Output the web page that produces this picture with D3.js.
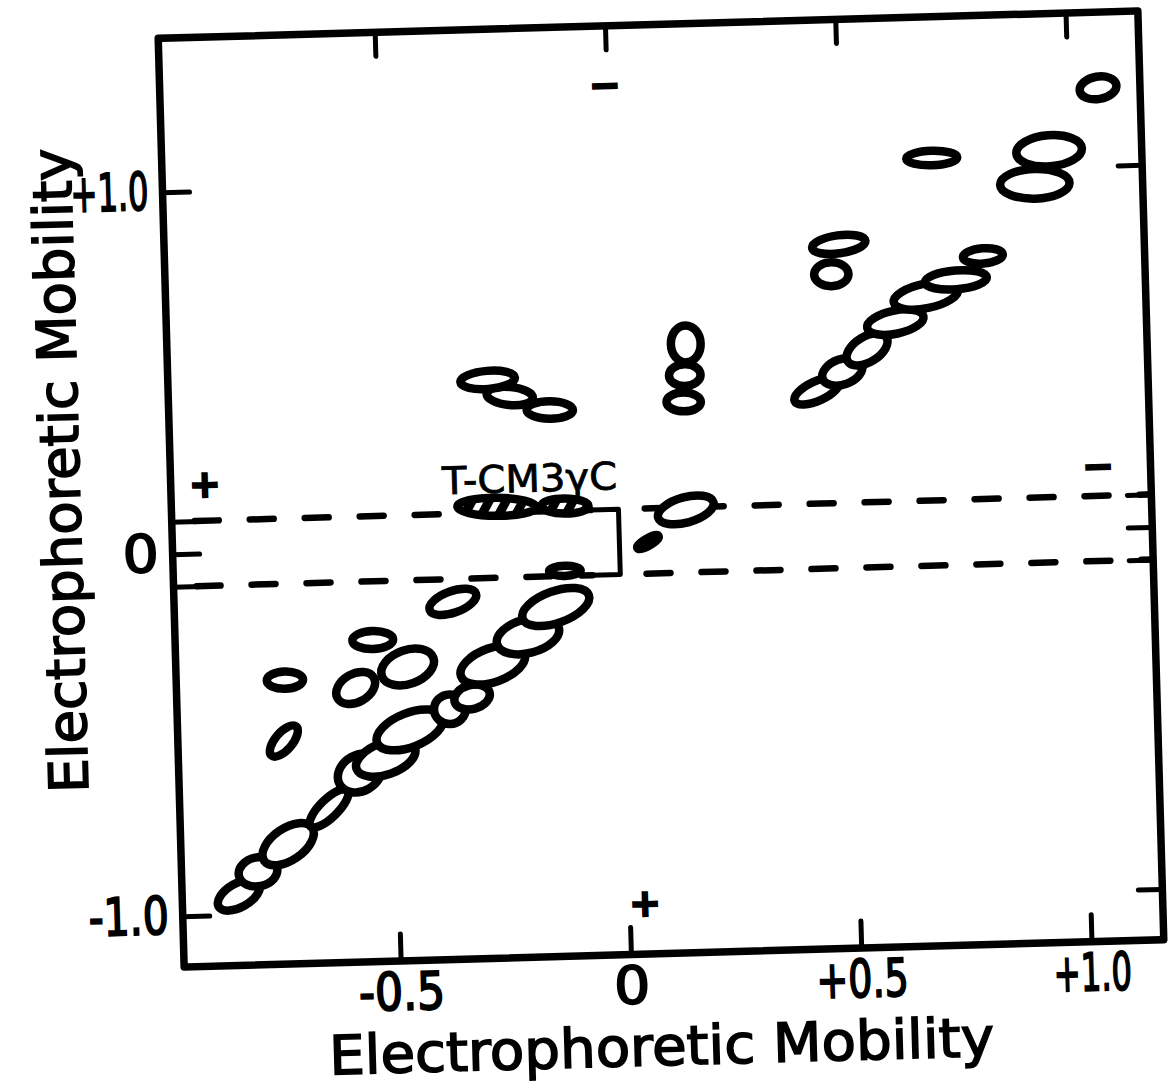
<!DOCTYPE html>
<html>
<head>
<meta charset="utf-8">
<script src="https://cdn.jsdelivr.net/npm/d3@7"></script>
<style>
  body { margin: 0; background: #fff; }
  svg { display: block; }
  text { font-family: "DejaVu Sans", sans-serif; fill: #000; }
</style>
</head>
<body>
<svg id="svg" width="1168" height="1088"></svg>
<script>
// axis ticks
var xTicks = [-0.5, 0, 0.5, 1.0];
var xTickLabels = ["-0.5", "0", "+0.5", "+1.0"];
var yTicks = [-1.0, -0.09, 0, 0.09, 1.0];
var yTickLabels = ["-1.0", "", "0", "", "+1.0"];
var axisTitle = "Electrophoretic Mobility";

// spots: [x mobility, y mobility, half width, half height, tilt deg]
var isolatedSpots = [
  [-0.120, -0.076, 0.043, 0.025, 0],
  [-0.365, -0.153, 0.062, 0.041, -18],
  [-0.541, -0.252, 0.053, 0.036, 0],
  [-0.467, -0.329, 0.068, 0.058, -18],
  [-0.581, -0.383, 0.054, 0.050, -28],
  [-0.734, -0.356, 0.048, 0.035, 0],
  [-0.740, -0.524, 0.050, 0.035, -48]
];
var lowerChain = [
  [-0.847, -0.946, 0.059, 0.044, -28],
  [-0.804, -0.883, 0.051, 0.051, -10],
  [-0.737, -0.809, 0.072, 0.055, -33],
  [-0.646, -0.713, 0.065, 0.036, -43],
  [-0.577, -0.618, 0.059, 0.061, -28],
  [-0.520, -0.580, 0.076, 0.055, -18],
  [-0.466, -0.503, 0.085, 0.058, -20],
  [-0.378, -0.449, 0.043, 0.052, 0],
  [-0.329, -0.417, 0.048, 0.044, -13],
  [-0.282, -0.330, 0.082, 0.058, -18],
  [-0.204, -0.253, 0.078, 0.058, -13],
  [-0.142, -0.175, 0.085, 0.055, -18]
];
var middleSpots = [
  [-0.229, 0.411, 0.059, 0.036, 7],
  [-0.276, 0.457, 0.068, 0.036, -3],
  [-0.143, 0.369, 0.059, 0.035, 2],
  [0.148, 0.381, 0.046, 0.037, 2],
  [0.152, 0.455, 0.043, 0.041, 0],
  [0.156, 0.541, 0.041, 0.062, 0],
  [0.146, 0.083, 0.071, 0.046, -14],
  [0.062, -0.003, 0.035, 0.021, -28]
];
var upperChain = [
  [0.438, 0.401, 0.062, 0.038, -23],
  [0.494, 0.452, 0.054, 0.046, -18],
  [0.549, 0.512, 0.058, 0.046, -30],
  [0.612, 0.585, 0.071, 0.043, -10],
  [0.680, 0.655, 0.080, 0.045, -10],
  [0.746, 0.697, 0.076, 0.037, -3],
  [0.806, 0.761, 0.052, 0.032, -3]
];
var upperSpots = [
  [0.476, 0.722, 0.046, 0.044, 0],
  [0.494, 0.804, 0.067, 0.036, -6],
  [0.701, 1.035, 0.064, 0.031, 0],
  [0.923, 0.956, 0.084, 0.052, 0],
  [0.956, 1.046, 0.080, 0.054, -3],
  [1.066, 1.216, 0.049, 0.042, -8]
];
var hatchedSpots = [
  [-0.264, 0.106, 0.094, 0.036, 2],
  [-0.116, 0.103, 0.060, 0.032, 2]
];

// dashed boundaries and the bracket at the origin
var dashLevels = [0.09, -0.09];
var leftDashRange = [-0.92, -0.06];
var rightDashRange = [0.057, 1.157];

// polarity marks and spot label
var marks = [
  {t: "+", x: -0.896, y: 0.191},
  {t: "\u2212", x: 1.043, y: 0.172},
  {t: "\u2212", x: -0.004, y: 1.262},
  {t: "+", x: 0.034, y: -0.999}
];
var spotLabel = {t: "T-CM3\u03b3C", x: -0.191, y: 0.145};

var frameL = 171, frameR = 1151, frameT = 24.5, frameB = 953.5;
var x = d3.scaleLinear().domain([-0.97, 1.157]).range([frameL, frameR]);
var y = d3.scaleLinear().domain([-1.14, 1.425]).range([frameB, frameT]);

var svg = d3.select("#svg");
var pat = svg.append("defs").append("pattern")
  .attr("id", "hatch")
  .attr("patternUnits", "userSpaceOnUse")
  .attr("width", 15).attr("height", 15)
  .attr("patternTransform", "rotate(28)");
pat.append("rect").attr("width", 15).attr("height", 15).attr("fill", "#fff");
pat.append("rect").attr("width", 9).attr("height", 15).attr("fill", "#000");

// the scanned figure sits slightly tilted on the page
var g = svg.append("g").attr("transform", "rotate(-1.6, 661, 489)");

// dashed lines
var line = d3.line().x(d => x(d[0])).y(d => y(d[1]));
dashLevels.forEach(function(lv) {
  [leftDashRange, rightDashRange].forEach(function(r) {
    g.append("path")
      .attr("d", line([[r[0], lv], [r[1], lv]]))
      .attr("fill", "none").attr("stroke", "#000")
      .attr("stroke-width", 6.5).attr("stroke-linecap", "round")
      .attr("stroke-dasharray", "24,31");
  });
});
g.append("path")
  .attr("d", line([[leftDashRange[1], dashLevels[0]], [0, dashLevels[0]],
                   [0, dashLevels[1]], [leftDashRange[1], dashLevels[1]]]))
  .attr("fill", "none").attr("stroke", "#000")
  .attr("stroke-width", 5).attr("stroke-linejoin", "round");

function drawSpots(rows, cls, fill) {
  g.selectAll("ellipse." + cls).data(rows).join("ellipse")
    .attr("class", cls)
    .attr("cx", d => x(d[0]))
    .attr("cy", d => y(d[1]))
    .attr("rx", d => Math.max(x(d[2]) - x(0) - 4, 2))
    .attr("ry", d => Math.max(y(0) - y(d[3]) - 4, 2))
    .attr("transform", d => "rotate(" + d[4] + "," + x(d[0]) + "," + y(d[1]) + ")")
    .attr("fill", fill)
    .attr("stroke", "#000")
    .attr("stroke-width", 8.5);
}
drawSpots(isolatedSpots, "iso", "#fff");
drawSpots(lowerChain, "low", "#fff");
drawSpots(middleSpots, "mid", "#fff");
drawSpots(upperChain, "upc", "#fff");
drawSpots(upperSpots, "ups", "#fff");
drawSpots(hatchedSpots, "hat", "url(#hatch)");

// frame
g.append("rect")
  .attr("x", frameL).attr("y", frameT)
  .attr("width", frameR - frameL).attr("height", frameB - frameT)
  .attr("fill", "none").attr("stroke", "#000")
  .attr("stroke-width", 7.5).attr("stroke-linejoin", "round");

var labelWidth = {"-0.5": 86, "0": 36, "+0.5": 92, "+1.0": 78, "-1.0": 80};

function styleAxis(sel) {
  sel.select(".domain").remove();
  sel.selectAll(".tick line").attr("stroke", "#000").attr("stroke-width", 5)
    .attr("stroke-linecap", "round");
  sel.selectAll(".tick text")
    .attr("font-family", "DejaVu Sans, sans-serif")
    .attr("font-size", 52)
    .attr("stroke", "#000").attr("stroke-width", 2)
    .each(function() {
      var s = d3.select(this).text();
      if (labelWidth[s]) {
        d3.select(this).attr("textLength", labelWidth[s]).attr("lengthAdjust", "spacingAndGlyphs");
      }
    });
}

g.append("g").attr("transform", "translate(0," + frameB + ")")
  .call(d3.axisBottom(x).tickValues(xTicks).tickSize(-27).tickPadding(12)
    .tickFormat((d, i) => xTickLabels[i]))
  .call(styleAxis);
g.append("g").attr("transform", "translate(0," + frameT + ")")
  .call(d3.axisTop(x).tickValues(xTicks).tickSize(-24).tickFormat(""))
  .call(styleAxis);
g.append("g").attr("transform", "translate(" + frameL + ",0)")
  .call(d3.axisLeft(y).tickValues(yTicks).tickSize(-27).tickPadding(14)
    .tickFormat((d, i) => yTickLabels[i]))
  .call(styleAxis);
g.append("g").attr("transform", "translate(" + frameR + ",0)")
  .call(d3.axisRight(y).tickValues(yTicks).tickSize(-24).tickFormat(""))
  .call(styleAxis);

// axis titles
g.append("text")
  .attr("x", 646).attr("y", 1065)
  .attr("text-anchor", "middle")
  .attr("font-size", 54)
  .attr("stroke", "#000").attr("stroke-width", 1.6)
  .attr("textLength", 665).attr("lengthAdjust", "spacingAndGlyphs")
  .text(axisTitle);
g.append("text")
  .attr("transform", "translate(80,454) rotate(-90)")
  .attr("text-anchor", "middle")
  .attr("font-size", 54)
  .attr("stroke", "#000").attr("stroke-width", 1.6)
  .attr("textLength", 645).attr("lengthAdjust", "spacingAndGlyphs")
  .text(axisTitle);

// polarity marks
g.selectAll("text.mark").data(marks).join("text")
  .attr("class", "mark")
  .attr("x", d => x(d.x)).attr("y", d => y(d.y))
  .attr("text-anchor", "middle")
  .attr("dominant-baseline", "central")
  .attr("font-size", 38).attr("font-weight", "bold")
  .attr("stroke", "#000").attr("stroke-width", 2)
  .text(d => d.t);

g.append("text")
  .attr("x", x(spotLabel.x)).attr("y", y(spotLabel.y))
  .attr("text-anchor", "middle")
  .attr("font-size", 38)
  .attr("stroke", "#000").attr("stroke-width", 0.8)
  .attr("textLength", 175).attr("lengthAdjust", "spacingAndGlyphs")
  .text(spotLabel.t);
</script>
</body>
</html>
